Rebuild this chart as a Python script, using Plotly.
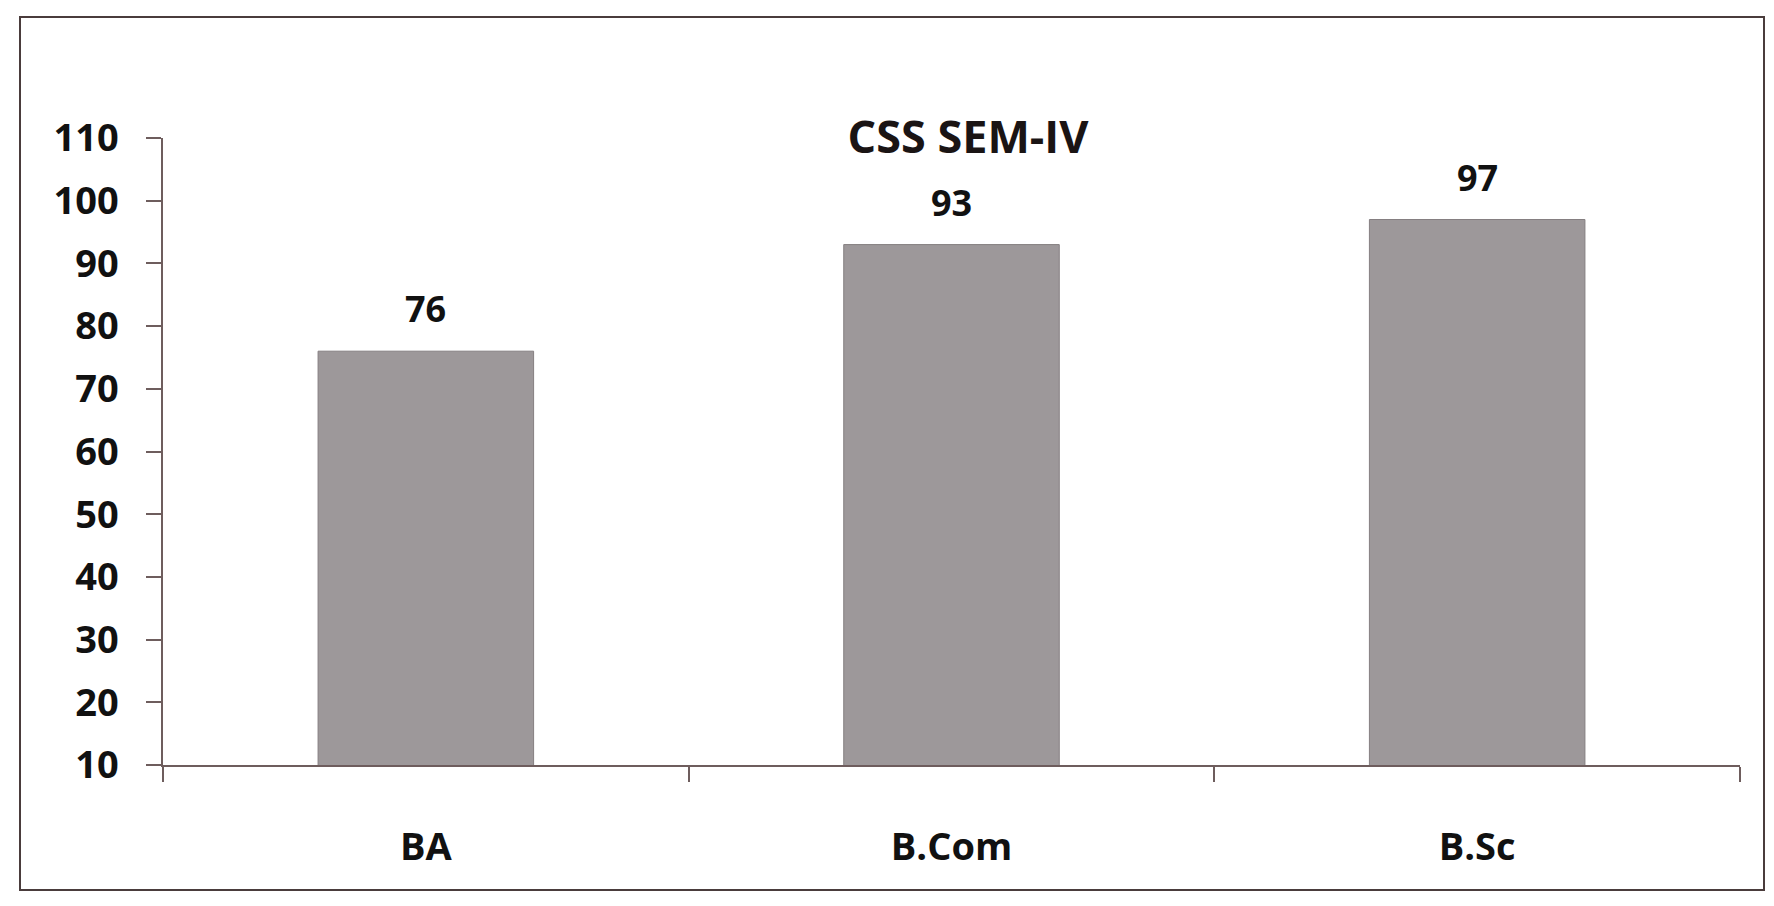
import plotly.graph_objects as go

categories = ["BA", "B.Com", "B.Sc"]
values = [76, 93, 97]
title_text = "CSS SEM-IV"
y_ticks = [10, 20, 30, 40, 50, 60, 70, 80, 90, 100, 110]

FONT = "Open Sans"
AXIS_COLOR = "#6e5d5d"
BAR_COLOR = "#9d989a"

# page body adds an 8px offset; compensate in layout numbers
OFF = 8
L, R, T, B = 163 - OFF, 34 + OFF, 138 - OFF, 141 + OFF
PW = 1774 - L - R
PH = 906 - T - B
bottom_px = 906 - B

fig = go.Figure()
fig.add_trace(go.Bar(
    x=categories,
    y=values,
    width=0.41,
    marker=dict(color=BAR_COLOR, line=dict(color="#857f81", width=1)),
    showlegend=False,
    hoverinfo="x+y",
))

for c, v in zip(categories, values):
    fig.add_annotation(
        x=c, y=v, xref="x", yref="y",
        text=str(v), showarrow=False,
        yanchor="bottom", yshift=16,
        font=dict(family=FONT, size=36, color="#111111", weight=700),
    )

fig.update_layout(
    width=1774, height=906,
    margin=dict(l=L, r=R, t=T, b=B),
    paper_bgcolor="white",
    plot_bgcolor="white",
    title=dict(
        text=title_text,
        x=(968 - OFF) / 1774, xanchor="center",
        y=1 - (137 - OFF) / 906, yanchor="middle",
        font=dict(family=FONT, size=45, color="#1a1414", weight=700),
    ),
    xaxis=dict(
        type="category",
        showline=True, linecolor=AXIS_COLOR, linewidth=1.5,
        ticks="outside", tickson="boundaries", ticklen=15,
        tickcolor=AXIS_COLOR, tickwidth=1.5,
        ticklabelstandoff=48,
        tickfont=dict(family=FONT, size=38, color="#111111", weight=700),
        showgrid=False, zeroline=False,
    ),
    yaxis=dict(
        range=[10, 110],
        tickvals=y_ticks,
        showline=True, linecolor=AXIS_COLOR, linewidth=1.5,
        ticks="outside", ticklen=15,
        tickcolor=AXIS_COLOR, tickwidth=1.5,
        ticklabelstandoff=20,
        tickfont=dict(family=FONT, size=38, color="#111111", weight=700),
        showgrid=False, zeroline=False,
    ),
    shapes=[dict(
        type="rect", xref="paper", yref="paper",
        x0=(20 - OFF - L) / PW, x1=(1764 - OFF - L) / PW,
        y0=(bottom_px - (890 - OFF)) / PH, y1=(bottom_px - (17 - OFF)) / PH,
        line=dict(color="#4a3c3c", width=2),
        fillcolor="rgba(0,0,0,0)",
        layer="below",
    )],
)

fig.write_html("out.html")
